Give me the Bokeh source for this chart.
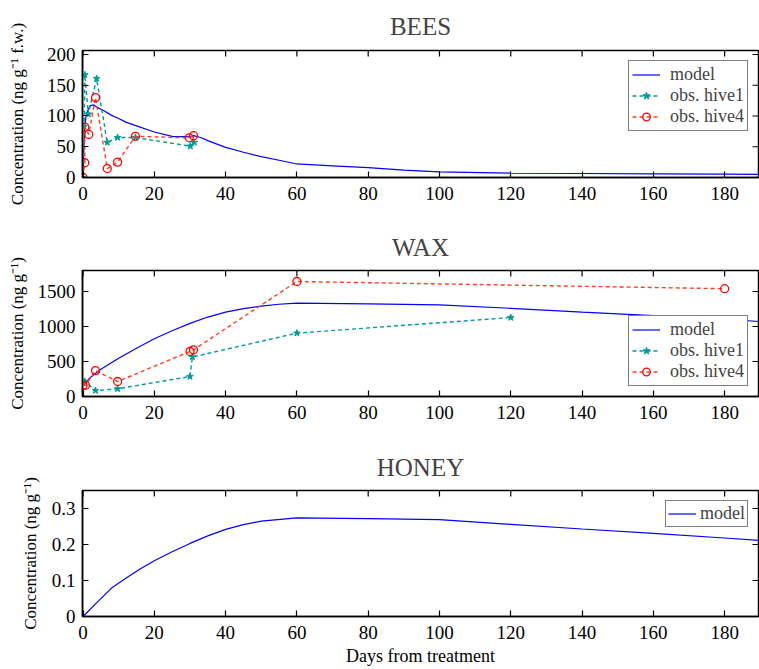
import math
from bokeh.plotting import figure
from bokeh.layouts import column
from bokeh.models import Range1d, FixedTicker
from bokeh.embed import file_html
from bokeh.resources import INLINE

FONT = "Liberation Serif"
BLUE = "#0000ff"
TEAL = "#009a9a"
RED_LINE = "#ff4020"
RED_MARK = "#ff0000"

x_ticks = [0, 20, 40, 60, 80, 100, 120, 140, 160, 180]
X_MIN, X_MAX = -0.15, 189.5

# ---- BEES ----
bees_model_x = [0, 0.25, 0.5, 1, 2, 3, 4, 6, 8, 10, 12, 15, 20, 25, 30, 31, 33, 35, 40, 45, 50, 55, 60, 70, 80, 90, 100, 120, 140, 160, 180, 190]
bees_model_y = [0, 50, 85, 105, 117, 118, 114, 108, 101, 96, 90, 84, 74, 67, 66, 68, 65, 60, 49, 41, 34, 28, 22, 19, 16, 12, 9, 7, 6.5, 6, 5.5, 5]
bees_h1_x = [0, 0.3, 0.5, 1.5, 3.8, 6.8, 9.7, 14.7, 30.1, 31.2]
bees_h1_y = [0, 83, 167, 103, 161, 57, 65, 65, 51, 57]
bees_h4_x = [0, 0.5, 0.5, 1.6, 3.5, 6.8, 9.7, 14.7, 29.8, 31.0]
bees_h4_y = [0, 24, 82, 70, 130, 14.5, 25, 67, 64.5, 68]
bees_yticks = [0, 50, 100, 150, 200]
bees_ymax = 206.5

# ---- WAX ----
wax_model_x = [0, 2, 5, 10, 15, 20, 25, 30, 35, 40, 45, 50, 55, 60, 80, 100, 120, 140, 160, 180, 190]
wax_model_y = [165, 270, 390, 545, 690, 825, 940, 1045, 1135, 1205, 1255, 1292, 1318, 1335, 1322, 1308, 1260, 1205, 1155, 1105, 1070]
wax_h1_x = [0, 0.5, 3.5, 9.7, 30, 30.7, 60, 120]
wax_h1_y = [195, 215, 85, 110, 285, 565, 905, 1128]
wax_h4_x = [0, 0.7, 3.5, 9.7, 30, 31, 60, 180]
wax_h4_y = [160, 160, 370, 214, 643, 667, 1643, 1540]
wax_yticks = [0, 500, 1000, 1500]
wax_ymax = 1800

# ---- HONEY ----
honey_model_x = [0, 4, 8, 12, 16, 20, 25, 30, 35, 40, 45, 50, 60, 80, 100, 120, 140, 160, 180, 190]
honey_model_y = [0, 0.04, 0.079, 0.106, 0.132, 0.155, 0.18, 0.203, 0.224, 0.242, 0.255, 0.265, 0.274, 0.272, 0.269, 0.256, 0.243, 0.231, 0.218, 0.211]
honey_yticks = [0, 0.1, 0.2, 0.3]
honey_ymax = 0.35


def make_fig(title, frame_h, ymax, yticks, ylabel, border_top, border_bottom, label_standoff,
             title_standoff, xlabel=None):
    p = figure(frame_width=676, frame_height=frame_h, output_backend="svg", toolbar_location=None,
               x_range=Range1d(X_MIN, X_MAX), y_range=Range1d(0, ymax),
               min_border_left=82, min_border_right=1, min_border_top=border_top,
               min_border_bottom=border_bottom)
    p.title.text = title
    p.title.text_font = FONT
    p.title.text_font_size = "25px"
    p.title.text_font_style = "normal"
    p.title.align = "center"
    p.title.standoff = title_standoff
    p.grid.visible = False
    p.outline_line_color = "black"
    p.outline_line_width = 1.5
    p.outline_line_alpha = 1
    p.background_fill_color = "white"
    p.border_fill_color = "white"

    for ax in (p.xaxis[0], p.yaxis[0]):
        ax.axis_line_color = "black"
        ax.axis_line_width = 1.5
        ax.major_tick_in = 6
        ax.major_tick_out = 0
        ax.major_tick_line_width = 1.2
        ax.minor_tick_line_color = None
        ax.major_label_text_font = FONT
        ax.major_label_text_font_size = "19px"
        ax.major_label_text_color = "black"
        ax.axis_label_text_font = FONT
        ax.axis_label_text_font_style = "normal"
        ax.axis_label_text_color = "black"
    p.xaxis[0].ticker = FixedTicker(ticks=x_ticks)
    p.xaxis[0].major_label_standoff = 9
    p.yaxis[0].ticker = FixedTicker(ticks=yticks)
    p.yaxis[0].major_label_standoff = 7
    p.yaxis[0].major_label_overrides = {0: "0"}
    p.yaxis[0].axis_label = ylabel
    p.yaxis[0].axis_label_text_font_size = "17px"
    p.yaxis[0].axis_label_standoff = label_standoff
    if xlabel:
        p.xaxis[0].axis_label = xlabel
        p.xaxis[0].axis_label_text_font_size = "18px"
        p.xaxis[0].axis_label_standoff = 4

    # mirrored inward ticks on the top and right frame edges (half of each dash is clipped by the frame)
    p.scatter(x_ticks, [ymax] * len(x_ticks), marker="dash", angle=math.pi / 2, size=12,
              line_color="black", line_width=1.2)
    p.scatter([X_MAX] * len(yticks), yticks, marker="dash", size=12,
              line_color="black", line_width=1.2)
    return p


def style_legend(p, loc, standoff=10, padding=3):
    lg = p.legend[0]
    lg.location = loc
    lg.label_text_font = FONT
    lg.label_text_font_size = "18px"
    lg.border_line_color = "black"
    lg.border_line_width = 1.2
    lg.background_fill_alpha = 1
    lg.glyph_width = 28
    lg.glyph_height = 19
    lg.label_height = 19
    lg.spacing = 0
    lg.padding = padding
    lg.margin = 10
    lg.label_standoff = standoff


ylab_b = "Concentration (ng g\u207b\u00b9 f.w.)"
ylab = "Concentration (ng g\u207b\u00b9)"

# BEES
p1 = make_fig("BEES", 127, bees_ymax, bees_yticks, ylab_b, 49, 45, 17, 21)
p1.line(bees_model_x, bees_model_y, color=BLUE, line_width=1.2, legend_label="model")
p1.line(bees_h1_x, bees_h1_y, color=TEAL, line_width=1.4, line_dash="4 3", legend_label="obs. hive1")
p1.scatter(bees_h1_x, bees_h1_y, marker="star", size=7, color=TEAL, legend_label="obs. hive1")
p1.line(bees_h4_x, bees_h4_y, color=RED_LINE, line_width=1.4, line_dash="4 3", legend_label="obs. hive4")
p1.scatter(bees_h4_x, bees_h4_y, marker="circle", size=8, line_color=RED_MARK, fill_color=None, line_width=1.3, legend_label="obs. hive4")
style_legend(p1, "top_right")

# WAX
p2 = make_fig("WAX", 126, wax_ymax, wax_yticks, ylab, 47, 46, 8, 19)
p2.line(wax_model_x, wax_model_y, color=BLUE, line_width=1.2, legend_label="model")
p2.line(wax_h1_x, wax_h1_y, color=TEAL, line_width=1.4, line_dash="4 3", legend_label="obs. hive1")
p2.scatter(wax_h1_x, wax_h1_y, marker="star", size=7, color=TEAL, legend_label="obs. hive1")
p2.line(wax_h4_x, wax_h4_y, color=RED_LINE, line_width=1.4, line_dash="4 3", legend_label="obs. hive4")
p2.scatter(wax_h4_x, wax_h4_y, marker="circle", size=8, line_color=RED_MARK, fill_color=None, line_width=1.3, legend_label="obs. hive4")
style_legend(p2, "bottom_right")

# HONEY
p3 = make_fig("HONEY", 126, honey_ymax, honey_yticks, ylab, 48, 55, 9, 19, xlabel="Days from treatment")
p3.line(honey_model_x, honey_model_y, color=BLUE, line_width=1.2, legend_label="model")
style_legend(p3, "top_right", standoff=4, padding=2)

layout = column(p1, p2, p3, spacing=0)
open("out.html", "w").write(file_html(layout, INLINE))
